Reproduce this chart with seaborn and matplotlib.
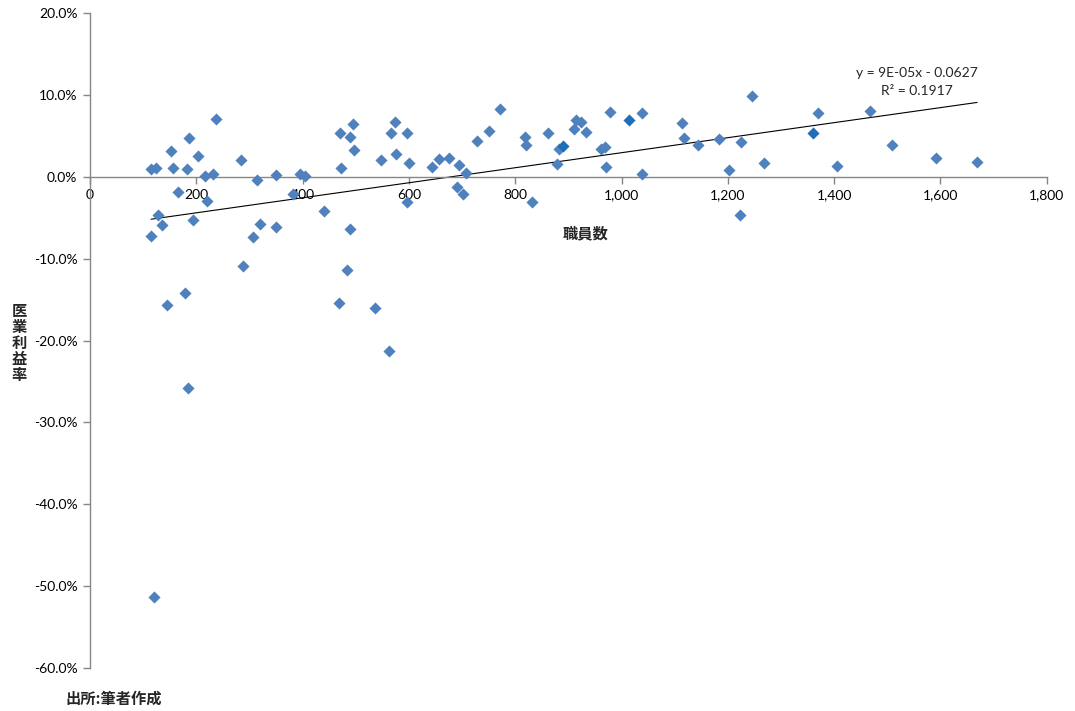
import numpy as np
import pandas as pd
import matplotlib
matplotlib.use("Agg")
import matplotlib.pyplot as plt
import seaborn as sns
from matplotlib.ticker import PercentFormatter, FuncFormatter, MultipleLocator

# 職員数 (staff) and 医業利益率 (operating margin, fraction)
staff = [115, 124, 115, 128, 135, 152, 156, 165, 145, 186, 182, 194, 203, 216, 220, 231, 237,
         179, 184, 120, 284, 288, 306, 314, 320, 350, 350, 382, 395, 404, 440, 470, 472, 489,
         494, 496, 490, 483, 468, 536, 562, 547, 566, 573, 575, 596, 600, 596, 643, 656, 676,
         694, 690, 701, 707, 729, 750, 771, 818, 821, 831, 861, 878, 883, 910, 915, 923, 933,
         961, 969, 970, 979, 1038, 1038, 1114, 1117, 1143, 1184, 1203, 1225, 1222, 1246, 1269,
         1369, 1406, 1468, 1508, 1592, 1669]
margin = [1.0, 1.1, -7.2, -4.6, -5.9, 3.1, 1.1, -1.8, -15.6, 4.8, 1.0, -5.3, 2.6, 0.1, -2.9, 0.4, 7.1,
          -14.2, -25.8, -51.3, 2.0, -10.9, -7.3, -0.4, -5.7, 0.2, -6.1, -2.1, 0.4, 0.1, -4.2, 5.4, 1.1, 4.9,
          6.5, 3.3, -6.4, -11.4, -15.4, -16.0, -21.3, 2.0, 5.4, 6.7, 2.8, 5.4, 1.7, -3.1, 1.2, 2.2, 2.3,
          1.5, -1.2, -2.1, 0.5, 4.4, 5.6, 8.3, 4.9, 3.9, -3.1, 5.3, 1.6, 3.4, 5.8, 7.0, 6.7, 5.5,
          3.4, 3.7, 1.2, 7.9, 7.8, 0.4, 6.6, 4.7, 3.9, 4.6, 0.8, 4.3, -4.6, 9.9, 1.7,
          7.8, 1.3, 8.1, 3.9, 2.3, 1.8]

# points drawn in a slightly darker blue
hi_staff = [890, 1015, 1361]
hi_margin = [3.8, 7.0, 5.4]

df = pd.DataFrame({"staff": staff, "margin": np.array(margin) / 100})
df_hi = pd.DataFrame({"staff": hi_staff, "margin": np.array(hi_margin) / 100})
df_all = pd.concat([df, df_hi], ignore_index=True)

sns.set_theme(style="white")
plt.rcParams["font.family"] = ["Lato", "Noto Sans CJK JP", "DejaVu Sans"]
plt.rcParams["axes.unicode_minus"] = False

fig = plt.figure(figsize=(10.75, 7.11), dpi=100)
ax = fig.add_axes([0.0837, 0.0605, 0.890, 0.921])

sns.regplot(data=df_all, x="staff", y="margin", scatter=False, ci=None, truncate=True,
            line_kws={"color": "black", "lw": 0.8}, ax=ax)
sns.scatterplot(data=df, x="staff", y="margin", marker="D", s=38, color="#4F81BD",
                linewidth=0, ax=ax, zorder=3)
sns.scatterplot(data=df_hi, x="staff", y="margin", marker="D", s=38, color="#1F6EBA",
                linewidth=0, ax=ax, zorder=3)

ax.set_xlim(0, 1800)
ax.set_ylim(-0.6, 0.2)
ax.xaxis.set_major_locator(MultipleLocator(200))
ax.yaxis.set_major_locator(MultipleLocator(0.1))
ax.yaxis.set_major_formatter(PercentFormatter(1.0, decimals=1))
ax.xaxis.set_major_formatter(FuncFormatter(lambda v, p: f"{v:,.0f}"))
ax.set_xlabel("")
ax.set_ylabel("")

for s in ["top", "right"]:
    ax.spines[s].set_visible(False)
ax.spines["bottom"].set_position(("data", 0))
for s in ["left", "bottom"]:
    ax.spines[s].set_color("#868686")
    ax.spines[s].set_linewidth(1)
ax.tick_params(axis="both", which="major", direction="out", length=5, width=1,
               color="#868686", labelsize=10, labelcolor="black", pad=4,
               left=True, bottom=True)

fig.text(917 / 1075, 1 - 73 / 711, "y = 9E-05x - 0.0627", ha="center", va="center", fontsize=10)
fig.text(917 / 1075, 1 - 91 / 711, "R² = 0.1917", ha="center", va="center", fontsize=10)

fig.text(586 / 1075, 1 - 233 / 711, "職員数", ha="center", va="center", fontsize=11,
         fontweight="bold", family=["Noto Sans CJK JP"])
fig.text(19 / 1075, 1 - 343 / 711, "医\n業\n利\n益\n率", ha="center", va="center", fontsize=11,
         fontweight="bold", linespacing=1.0, family=["Noto Sans CJK JP"])
fig.text(65 / 1075, 1 - 699 / 711, "出所:筆者作成", ha="left", va="center", fontsize=11,
         fontweight="bold", family=["Noto Sans CJK JP"])

fig.savefig("out.png", dpi=100)
